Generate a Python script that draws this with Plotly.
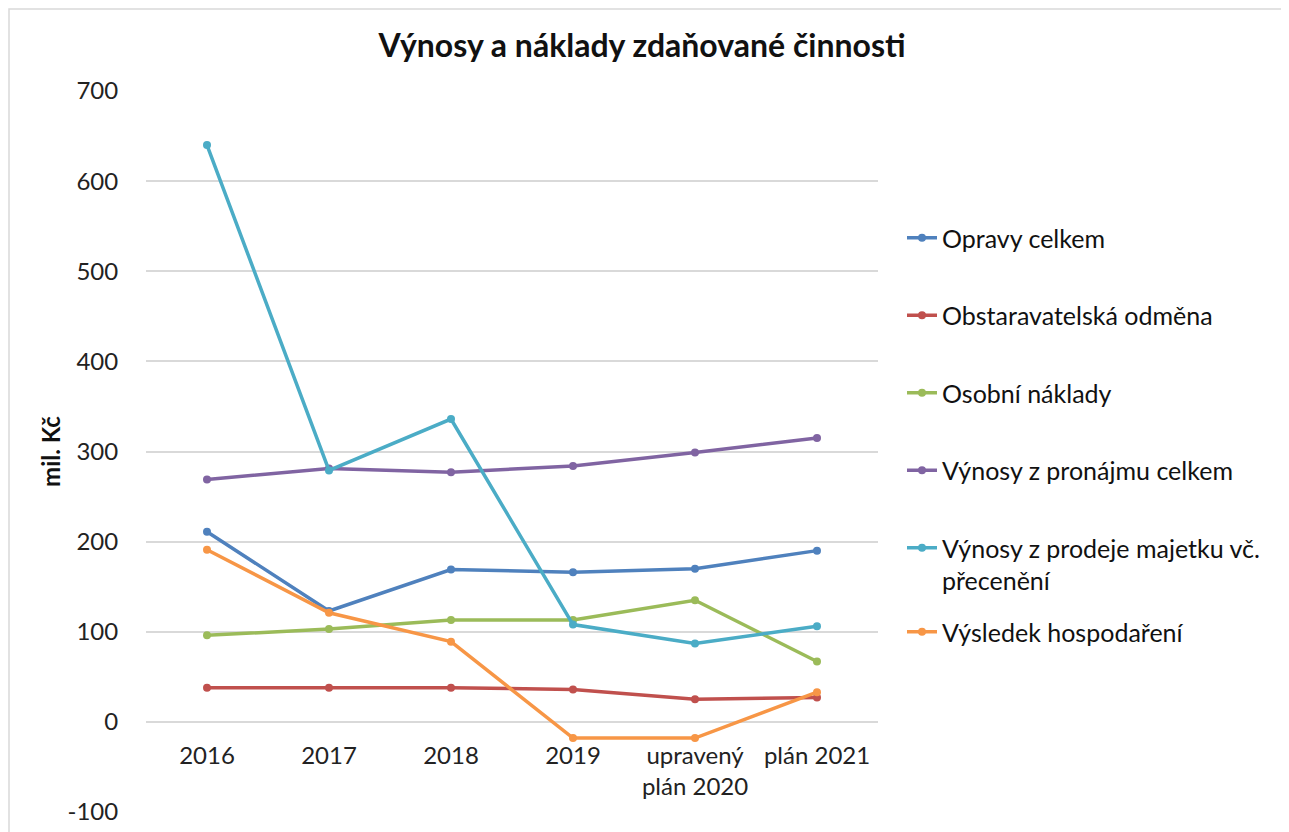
import plotly.graph_objects as go

categories = ["2016", "2017", "2018", "2019", "upravený<br>plán 2020", "plán 2021"]

series_names = [
    "Opravy celkem",
    "Obstaravatelská odměna",
    "Osobní náklady",
    "Výnosy z pronájmu celkem",
    "Výnosy z prodeje majetku vč.<br>přecenění",
    "Výsledek hospodaření",
]

opravy = [211, 123, 169, 166, 170, 190]
obstaravatelska = [38, 38, 38, 36, 25, 27]
osobni = [96, 103, 113, 113, 135, 67]
pronajem = [269, 281, 277, 284, 299, 315]
prodej = [640, 279, 336, 108, 87, 106]
vysledek = [191, 121, 89, -18, -18, 33]

values = [opravy, obstaravatelska, osobni, pronajem, prodej, vysledek]
colors = ["#4F81BD", "#C0504D", "#9BBB59", "#8064A2", "#4BACC6", "#F79646"]

y_ticks = [-100, 0, 100, 200, 300, 400, 500, 600, 700]
y_tick_labels = ["-100", "0", "100", "200", "300", "400", "500", "600", "700"]

FONT = "Lato"

fig = go.Figure()
for i, (name, vals, col) in enumerate(zip(series_names, values, colors)):
    fig.add_trace(go.Scatter(
        x=list(range(len(categories))), y=vals, name=name, mode="lines+markers",
        line=dict(color=col, width=3.5),
        marker=dict(color=col, size=8),
        legendgroup=str(i),
        legend="legend2" if i == len(series_names) - 1 else "legend",
    ))

W, H = 1289, 832
OFF = 7  # page offset of the figure on screen
# target plot area in screen pixels
SX0, SX1, SY0, SY1 = 145, 877, 90, 811
l = SX0 - OFF
t = SY0 - OFF
plot_w = SX1 - SX0
plot_h = SY1 - SY0
r = W - l - plot_w
b = H - t - plot_h
zero_frac = (SY1 - 721) / plot_h

def py(pix):
    return (SY1 - pix) / plot_h

def px(pix):
    return (pix - SX0) / plot_w

legend_common = dict(font=dict(family=FONT, size=25, color="#111"), itemwidth=30,
                     bgcolor="rgba(0,0,0,0)", valign="top")

fig.update_layout(
    width=W, height=H,
    margin=dict(l=l, r=r, t=t, b=b, autoexpand=False),
    paper_bgcolor="white", plot_bgcolor="white",
    font=dict(family=FONT, size=24, color="#222"),
    title=dict(text="<b>Výnosy a náklady zdaňované činnosti</b>", x=(641 - OFF) / W, xref="container",
               xanchor="center", y=1 - (45 - OFF) / H, yref="container", yanchor="middle",
               font=dict(family=FONT, size=32, color="#111")),
    showlegend=True,
    legend=dict(x=px(901), xanchor="left", y=py(214), yanchor="top",
                tracegroupgap=42, **legend_common),
    legend2=dict(x=px(901), xanchor="left", y=py(631), yanchor="middle", **legend_common),
    xaxis=dict(
        range=[-0.5, 5.5], tickmode="array", tickvals=list(range(len(categories))),
        ticktext=categories, anchor="free", position=zero_frac, automargin=False,
        showgrid=False, zeroline=False, showline=False,
        ticks="outside", ticklen=12, tickcolor="rgba(0,0,0,0)",
        tickfont=dict(family=FONT, size=24, color="#222"),
    ),
    yaxis=dict(
        range=[-100, 700], tickmode="array", tickvals=y_ticks, ticktext=y_tick_labels,
        showgrid=True, gridcolor="#D9D9D9",
        gridwidth=1.5, zeroline=False, showline=False, automargin=False,
        ticks="outside", ticklen=22, tickcolor="rgba(0,0,0,0)",
        tickfont=dict(family=FONT, size=24, color="#222"),
        title=dict(text="<b>mil. Kč</b>", standoff=0, font=dict(family=FONT, size=24, color="#111")),
    ),
    shapes=[dict(type="rect", xref="paper", yref="paper",
                 x0=px(8), x1=px(1310), y0=py(850), y1=py(8),
                 line=dict(color="#D9D9D9", width=1.5), fillcolor="rgba(0,0,0,0)", layer="below")],
)

fig.write_html("out.html")
